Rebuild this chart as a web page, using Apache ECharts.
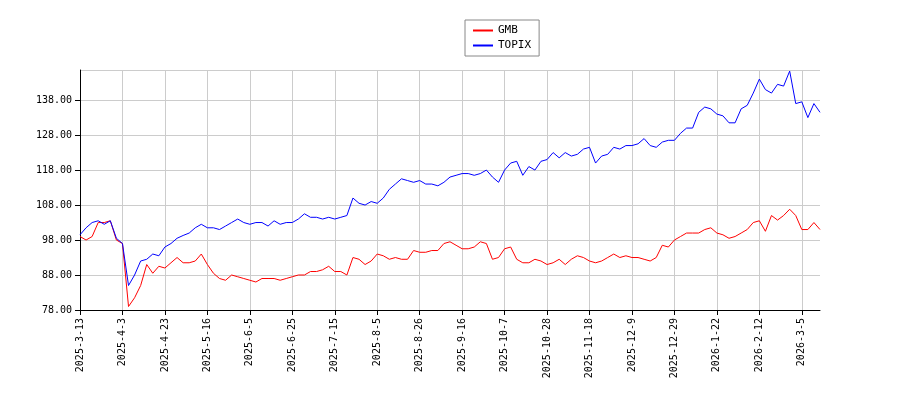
<!DOCTYPE html>
<html><head><meta charset="utf-8">
<script src="https://cdn.jsdelivr.net/npm/echarts@6/dist/echarts.min.js"></script>
<style>html,body{margin:0;padding:0;background:#fff}#c{width:900px;height:400px}</style>
</head><body><div id="c"></div>
<script>
const tickLabels = ["2025-3-13","2025-4-3","2025-4-23","2025-5-16","2025-6-5","2025-6-25","2025-7-15","2025-8-5","2025-8-26","2025-9-16","2025-10-7","2025-10-28","2025-11-18","2025-12-9","2025-12-29","2026-1-22","2026-2-12","2026-3-5"];
const gmb = [99,98,99,103,103,103.5,98,97,79,81.5,85,91,88.5,90.5,90,91.5,93,91.5,91.5,92,94,91,88.5,87,86.5,88,87.5,87,86.5,86,87,87,87,86.5,87,87.5,88,88,89,89,89.5,90.5,89,89,88,93,92.5,91,92,94,93.5,92.5,93,92.5,92.5,95,94.5,94.5,95,95,97,97.5,96.5,95.5,95.5,96,97.5,97,92.5,93,95.5,96,92.5,91.5,91.5,92.5,92,91,91.5,92.5,91,92.5,93.5,93,92,91.5,92,93,94,93,93.5,93,93,92.5,92,93,96.5,96,98,99,100,100,100,101,101.5,100,99.5,98.5,99,100,101,103,103.5,100.5,105,103.7,105,106.8,105,101,101,103,101];
const topix = [99.5,101.5,103,103.5,102.5,103.5,98.5,97,85,88,92,92.5,94,93.5,96,97,98.5,99.3,100,101.5,102.5,101.5,101.5,101,102,103,104,103,102.5,103,103,102,103.5,102.5,103,103,104,105.5,104.5,104.5,104,104.5,104,104.5,105,110,108.5,108,109,108.5,110,112.5,114,115.5,115,114.5,115,114,114,113.5,114.5,116,116.5,117,117,116.5,117,118,116,114.5,118,120,120.5,116.5,119,118,120.5,121,123,121.5,123,122,122.5,124,124.5,120,122,122.5,124.5,124,125,125,125.5,127,125,124.5,126,126.5,126.5,128.5,130,130,134.5,136,135.5,134,133.5,131.5,131.5,135.5,136.5,140,144,141,140,142.5,142,146.3,137,137.5,133,137,134.5];
const cats = gmb.map((_, i) => (i % 7 === 0 && tickLabels[i/7]) ? tickLabels[i/7] : "d" + i);
const ch = echarts.init(document.getElementById('c'));
const font = "DejaVu Sans Mono";
ch.setOption({
  animation:false,
  legend:{top:20,left:465,orient:'vertical',itemWidth:20,itemHeight:2,icon:'rect',
    borderColor:'#888',borderWidth:1,borderRadius:0,padding:[5,8],itemGap:4,
    textStyle:{fontFamily:font,fontSize:11,color:'#000'},data:['GMB','TOPIX']},
  grid:{left:80,right:80,top:70,bottom:90},
  xAxis:{type:'category',data:cats,boundaryGap:false,
    axisLine:{lineStyle:{color:'#000'}},
    axisTick:{interval:6,lineStyle:{color:'#000'}},
    axisLabel:{interval:6,rotate:90,fontFamily:font,fontSize:10,color:'#000'},
    splitLine:{show:true,interval:6,lineStyle:{color:'#ccc'}}},
  yAxis:{type:'value',min:78,max:146.6,interval:10,
    axisLine:{show:true,lineStyle:{color:'#000'}},axisTick:{show:true},
    axisLabel:{fontFamily:font,fontSize:10,color:'#000',formatter:v=>v.toFixed(2),
      showMaxLabel:false},
    splitLine:{lineStyle:{color:'#ccc'}}},
  series:[
    {name:'GMB',type:'line',data:gmb,showSymbol:false,lineStyle:{color:'#f00',width:1},itemStyle:{color:'#f00'}},
    {name:'TOPIX',type:'line',data:topix,showSymbol:false,lineStyle:{color:'#00f',width:1},itemStyle:{color:'#00f'}}
  ]
});
</script></body></html>
